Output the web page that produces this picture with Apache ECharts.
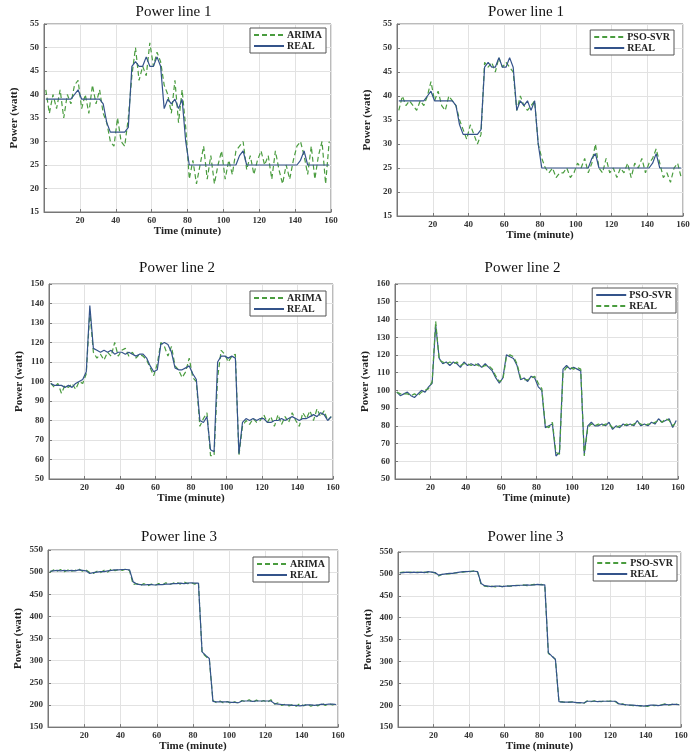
<!DOCTYPE html>
<html>
<head>
<meta charset="UTF-8">
<title>Power line forecasts</title>
<script src="https://cdn.jsdelivr.net/npm/echarts@6/dist/echarts.min.js"></script>
<style>
    body { margin: 0; padding: 0; background: #fff; }
    #chart { width: 693px; height: 753px; }
</style>
</head>
<body>
<div id="chart"></div>
<script>
    // sample times (minute), every 2 minutes
    const minutes = [1,3,5,7,9,11,13,15,17,19,21,23,25,27,29,31,33,35,37,39,
        41,43,45,47,49,51,53,55,57,59,61,63,65,67,69,71,73,75,77,79,
        81,83,85,87,89,91,93,95,97,99,101,103,105,107,109,111,113,115,117,119,
        121,123,125,127,129,131,133,135,137,139,141,143,145,147,149,151,153,155,157,159];

    // Power line 1
    const real1 = [39,39,39,39,39,39,39,39,40,41, 39,39,39,39,39,39,38,34,32,32,
        32,32,32,33,46,47,46,46,48,46, 46,48,46,37,39,38,39,37,39,30,
        25,25,25,25,25,25,25,25,25,25, 25,25,25,25,27,28,25,25,25,25,
        25,25,25,25,25,25,25,25,25,25, 25,26,28,25,25,25,25,25,25,25];
    const arima1 = [41,36,40,37,41,35,40,38,42,43, 37,40,36,42,38,41,36,34,30,29,
        35,30,29,35,44,50,43,46,44,51, 46,49,47,42,40,36,43,34,41,33,
        22,26,21,25,29,22,27,21,25,28, 22,26,23,28,29,30,24,27,23,26,
        28,25,27,22,28,24,21,25,22,26, 29,30,27,23,29,22,27,30,21,30];
    const pso1 = [37,40,38,39,38,37,39,38,40,43, 39,41,38,37,40,39,38,35,33,31,
        34,32,30,32,47,46,47,45,48,46, 47,46,45,37,40,38,37,38,39,30,
        27,25,24,25,23,24,24,25,23,24, 26,25,27,24,26,30,25,24,27,24,
        25,23,25,24,26,23,26,25,27,24, 26,27,29,26,23,24,22,25,26,23];

    // Power line 2
    const real2 = [99,98,98,98,97,98,97,99,100,101, 105,139,117,116,115,116,115,116,114,115,
        115,114,115,114,113,114,114,112,108,105, 106,119,120,119,115,107,106,106,107,108,
        104,101,80,79,82,65,64,110,113,113, 112,113,112,63,79,81,80,81,80,81,
        81,79,79,80,80,81,80,81,82,81, 80,81,81,82,83,82,84,83,80,82];
    const arima2 = [99,97,99,94,98,97,99,96,100,99, 104,136,115,112,114,111,115,113,120,113,
        116,117,113,115,112,114,113,111,107,103, 109,120,118,113,118,108,106,102,105,112,
        102,100,77,81,84,62,62,102,116,114, 110,113,114,62,77,80,78,81,79,80,
        83,79,82,77,83,78,82,79,84,80, 77,84,81,85,80,86,82,85,80,82];
    const pso2 = [99,97,98,99,97,96,98,100,99,102, 104,137,118,115,116,114,116,115,113,116,
        114,115,114,115,113,115,113,111,107,104, 107,120,119,118,114,106,107,105,108,107,
        102,100,79,80,81,63,65,112,114,112, 113,112,111,64,80,82,80,80,81,80,
        82,78,80,79,81,80,81,80,83,80, 81,80,82,81,84,82,83,84,79,83];

    // Power line 3
    const real3 = [502,503,504,503,504,503,504,503,505,504, 503,497,499,500,501,501,503,504,505,505,
        506,506,505,478,473,472,471,472,472,471, 472,472,473,473,474,474,475,474,475,476,
        475,475,320,312,305,208,207,207,207,207, 206,206,205,209,209,209,208,209,209,209,
        209,209,203,202,201,200,200,199,199,198, 199,200,200,199,200,202,201,202,202,201];
    const arima3 = [500,505,502,506,501,505,502,504,507,502, 505,499,497,502,499,504,500,508,503,506,
        504,507,503,472,474,470,474,469,473,470, 474,471,476,472,475,477,473,478,474,476,
        473,477,318,310,303,210,205,209,204,208, 203,207,204,210,207,212,206,211,207,210,
        206,212,202,205,199,202,198,201,197,203, 198,202,197,201,198,204,199,203,200,203];
    const pso3 = [503,504,503,504,502,504,503,504,503,504, 502,495,499,500,500,502,502,504,504,506,
        505,507,504,476,472,471,472,470,472,471, 473,472,472,474,473,475,473,475,476,475,
        476,474,318,313,304,207,208,206,207,208, 206,205,204,210,208,210,209,208,210,209,
        210,208,202,203,200,200,199,200,198,199, 197,200,199,200,201,203,200,202,203,201];

    const GREEN = '#4a9c3f';
    const BLUE = '#34538a';
    const SERIF = '"Liberation Serif", "DejaVu Serif", serif';

    // one entry per subplot: title, series, y range, grid box, legend corner
    const panels = [
        { title: 'Power line 1', y: [15, 55, 5], box: [44, 24, 287, 188], leg: [367, 28], titleY: 0,
          lines: [['ARIMA', arima1, GREEN, 'dashed'], ['REAL', real1, BLUE, 'solid']] },
        { title: 'Power line 1', y: [15, 55, 5], box: [397, 24, 286, 192], leg: [19, 30], titleY: 0,
          lines: [['PSO-SVR', pso1, GREEN, 'dashed'], ['REAL', real1, BLUE, 'solid']] },
        { title: 'Power line 2', y: [50, 150, 10], box: [49, 284, 284, 195], leg: [367, 291], titleY: 256,
          lines: [['ARIMA', arima2, GREEN, 'dashed'], ['REAL', real2, BLUE, 'solid']] },
        { title: 'Power line 2', y: [50, 160, 10], box: [395, 284, 283, 195], leg: [17, 288], titleY: 256,
          lines: [['PSO-SVR', pso2, BLUE, 'solid'], ['REAL', real2, GREEN, 'dashed']] },
        { title: 'Power line 3', y: [150, 550, 50], box: [48, 550, 290, 183], leg: [364, 557], titleY: 525,
          lines: [['ARIMA', arima3, GREEN, 'dashed'], ['REAL', real3, BLUE, 'solid']] },
        { title: 'Power line 3', y: [150, 550, 50], box: [398, 552, 283, 181], leg: [16, 556], titleY: 525,
          lines: [['PSO-SVR', pso3, GREEN, 'dashed'], ['REAL', real3, BLUE, 'solid']] }
    ];

    const option = {
        backgroundColor: '#fff',
        animation: false,
        title: [], grid: [], xAxis: [], yAxis: [], legend: [], series: []
    };

    panels.forEach((p, k) => {
        const [left, top, width, height] = p.box;
        option.title.push({
            text: p.title,
            left: left + width / 2 - 19,
            top: p.titleY,
            textAlign: 'center',
            textStyle: { fontFamily: SERIF, fontSize: 15, fontWeight: 'normal', color: '#111' }
        });
        option.grid.push({
            left: left, top: top, width: width, height: height,
            show: true, borderColor: '#777', borderWidth: 1, backgroundColor: '#fff'
        });
        option.xAxis.push({
            gridIndex: k, type: 'value', min: 0, max: 160, interval: 20,
            name: 'Time (minute)', nameLocation: 'middle', nameGap: 12,
            nameTextStyle: { fontFamily: SERIF, fontSize: 11, fontWeight: 'bold', color: '#222' },
            axisLine: { lineStyle: { color: '#777' } },
            axisTick: { inside: true, length: 3, lineStyle: { color: '#777' } },
            axisLabel: { showMinLabel: false, margin: 4, fontFamily: SERIF, fontSize: 9, fontWeight: 'bold', color: '#333' },
            splitLine: { lineStyle: { color: '#e2e2e2' } }
        });
        option.yAxis.push({
            gridIndex: k, type: 'value', min: p.y[0], max: p.y[1], interval: p.y[2],
            name: 'Power (watt)', nameLocation: 'middle', nameGap: 24,
            nameTextStyle: { fontFamily: SERIF, fontSize: 11, fontWeight: 'bold', color: '#222' },
            axisLine: { show: true, lineStyle: { color: '#777' } },
            axisTick: { show: true, inside: true, length: 3, lineStyle: { color: '#777' } },
            axisLabel: { margin: 5, fontFamily: SERIF, fontSize: 9, fontWeight: 'bold', color: '#333' },
            splitLine: { lineStyle: { color: '#e2e2e2' } }
        });
        const names = [];
        p.lines.forEach(([name, values, color, dash]) => {
            const id = name + '#' + k;
            names.push(id);
            option.series.push({
                name: id, type: 'line', xAxisIndex: k, yAxisIndex: k,
                data: minutes.map((t, i) => [t, values[i]]),
                symbol: 'none',
                lineStyle: { color: color, width: 1.2, type: dash === 'dashed' ? [5, 3] : 'solid' },
                itemStyle: { color: color }
            });
        });
        option.legend.push({
            data: names, orient: 'vertical', right: p.leg[0], top: p.leg[1],
            formatter: name => name.split('#')[0],
            itemWidth: 30, itemHeight: 8, itemGap: 1, padding: [2, 4, 2, 3],
            borderColor: '#555', borderWidth: 1, backgroundColor: '#fff',
            selectedMode: false,
            // hide the marker dot, keep only the line sample
            itemStyle: { color: 'rgba(0,0,0,0)', borderColor: 'rgba(0,0,0,0)', borderWidth: 0 },
            textStyle: { fontFamily: SERIF, fontSize: 10, fontWeight: 'bold', color: '#222', padding: [0, 0, 0, -2] }
        });
    });

    const myChart = echarts.init(document.getElementById('chart'));
    myChart.setOption(option);
</script>
</body>
</html>
